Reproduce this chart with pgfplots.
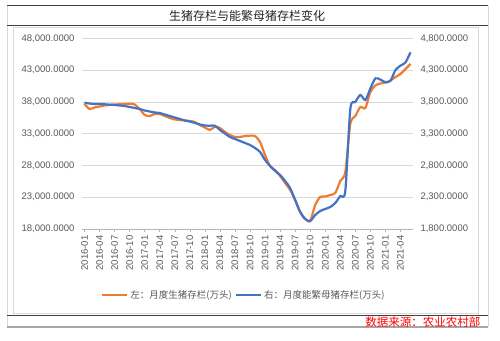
\documentclass[border=0pt]{standalone}
\usepackage{pgfplots}
\pgfplotsset{compat=1.18}
\usepackage{pgfplotstable}
\usepackage{fontspec}
\setmainfont{Liberation Sans}
\newfontfamily\cjk{Noto Sans CJK SC}
\definecolor{lorange}{HTML}{ED7D31}
\definecolor{lblue}{HTML}{4472C4}
\definecolor{tickc}{HTML}{595959}
\definecolor{gridc}{HTML}{D9D9D9}

\pgfplotstableread{
i hog sow
0 37670 3787
1 36880 3774
2 37120 3767
3 37270 3767
4 37430 3762
5 37510 3756
6 37590 3751
7 37620 3743
8 37670 3735
9 37710 3719
10 37590 3704
11 36880 3688
12 35940 3664
13 35780 3649
14 36090 3633
15 36090 3625
16 35780 3601
17 35460 3578
18 35230 3554
19 35150 3531
20 35070 3507
21 34990 3491
22 34830 3468
23 34360 3444
24 33970 3428
25 33580 3425
26 34100 3425
27 33890 3358
28 33260 3303
29 32790 3247
30 32470 3216
31 32470 3185
32 32630 3153
33 32680 3122
34 32630 3074
35 31690 3012
36 29640 2886
37 27910 2791
38 27280 2713
39 26340 2650
40 25240 2555
41 24140 2445
42 22570 2256
43 20680 2068
44 19580 1958
45 19260 1926
46 21780 2020
47 23040 2083
48 23120 2115
49 23350 2146
50 23670 2209
51 25550 2319
52 26970 2398
53 34520 3688
54 35780 3798
55 37190 3908
56 37040 3829
57 39550 4010
58 40580 4170
59 40890 4150
60 41050 4110
61 41360 4130
62 41910 4300
63 42380 4370
64 43170 4420
65 43960 4580
}\data

\pgfplotsset{
  numfmt/.style={/pgf/number format/.cd, fixed, fixed zerofill, precision=4, 1000 sep={,}, assume math mode=true},
}

\begin{document}
\begin{tikzpicture}[x=1pt,y=1pt]
\useasboundingbox (0,0) rectangle (500,340);
\fill[white] (0,0) rectangle (500,340);
% frame
\draw[gridc, line width=0.6pt] (7,334) -- (7,13);
\draw[gridc, line width=0.6pt] (488,334) -- (488,13);
\draw[gridc, line width=0.6pt] (13,27) rectangle (478,313);
\draw[black!75, line width=1pt] (7,334) -- (488,334);
\draw[black!75, line width=0.8pt] (7,315) -- (488,315);
\draw[black!75, line width=0.8pt] (7,25) -- (488,25);
\draw[black!35, line width=1.2pt] (7,13) -- (488,13);
\node[font=\cjk\fontsize{12}{14}\selectfont, text=black!85] at (247,324) {生猪存栏与能繁母猪存栏变化};
\node[anchor=east, font=\cjk\fontsize{11.5}{13}\selectfont, text=red] at (484,18) {数据来源：农业农村部};

\begin{axis}[
  at={(82pt,111pt)}, anchor=south west,
  scale only axis, width=331pt, height=190.7pt,
  xmin=-0.5, xmax=65.5, ymin=18000, ymax=48000,
  axis y line*=left, axis x line*=bottom,
  y axis line style={draw=none},
  x axis line style={draw=gridc!60!gray, line width=0.6pt},
  ytick={18000,23000,...,48000},
  ytick style={draw=none},
  ymajorgrids, grid style={gridc, line width=0.6pt},
  xtick={0,3,...,63},
  xticklabels={2016-01,2016-04,2016-07,2016-10,2017-01,2017-04,2017-07,2017-10,2018-01,2018-04,2018-07,2018-10,2019-01,2019-04,2019-07,2019-10,2020-01,2020-04,2020-07,2020-10,2021-01,2021-04},
  xtick align=outside, major tick length=3pt,
  xtick style={draw=gridc!60!gray, line width=0.5pt},
  xticklabel style={rotate=90, anchor=east, font=\fontsize{9.5}{10}\selectfont, text=tickc, yshift=0pt},
  yticklabel style={font=\fontsize{9.5}{10}\selectfont, text=tickc, xshift=-4pt, numfmt},
  scaled y ticks=false,
  clip=false,
]
\addplot[lorange, line width=2.2pt, smooth, tension=0.45] table[x=i, y=hog] {\data};
\end{axis}

\begin{axis}[
  at={(82pt,111pt)}, anchor=south west,
  scale only axis, width=331pt, height=190.7pt,
  xmin=-0.5, xmax=65.5, ymin=1800, ymax=4800,
  axis y line*=right, hide x axis,
  y axis line style={draw=none},
  ytick={1800,2300,...,4800},
  ytick style={draw=none},
  yticklabel style={font=\fontsize{9.5}{10}\selectfont, text=tickc, xshift=4pt, numfmt},
  scaled y ticks=false,
  clip=false,
  legend style={at={(0.489,-0.346)}, anchor=center, draw=none, fill=none,
    font=\cjk\fontsize{9.5}{11}\selectfont, text=tickc,
    /tikz/every even column/.append style={column sep=1pt}},
  legend columns=2,
  legend image code/.code={\draw[#1] (0pt,0pt) -- (25pt,0pt);},
]
\addlegendimage{lorange, line width=2.2pt}
\addlegendentry{左：月度生猪存栏(万头)}
\addplot[lblue, line width=2.2pt, smooth, tension=0.45] table[x=i, y=sow] {\data};
\addlegendentry{右：月度能繁母猪存栏(万头)}
\end{axis}
\end{tikzpicture}
\end{document}
